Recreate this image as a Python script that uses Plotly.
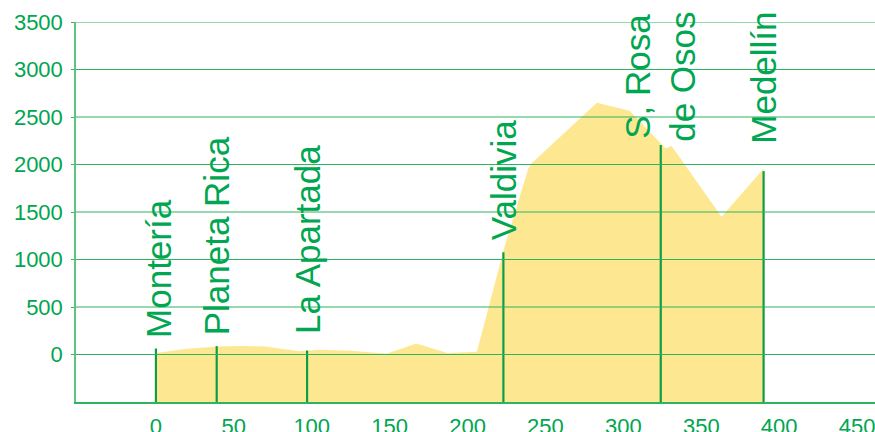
import plotly.graph_objects as go

# Route profile: distance along the road (km) and elevation (m)
profile_km = [0, 20, 40, 55, 70, 92, 105, 125, 148, 167, 187, 206, 224, 239, 241,
              283, 304, 327, 331, 363, 390]
profile_m = [15, 60, 85, 90, 85, 35, 50, 40, 8, 115, 15, 30, 1150, 1958, 2010,
             2650, 2566, 2170, 2195, 1450, 1955]

# Towns along the route: position (km) and elevation (m)
towns = ["Montería", "Planeta Rica", "La Apartada", "Valdivia", "S, Rosa<br>de Osos", "Medellín"]
town_km = [0, 39, 97, 223, 324, 390]
town_m = [63, 88, 42, 1076, 2205, 1930]

# Axis ticks
x_ticks = [0, 50, 100, 150, 200, 250, 300, 350, 400, 450]
y_ticks = [0, 500, 1000, 1500, 2000, 2500, 3000, 3500]

X_RANGE = [-51.3, 461.5]
Y_RANGE = [-500, 3500]

GREEN_TEXT = "#00A650"
GREEN_GRID = "#2EB35F"
GREEN_MARK = "#0B9E45"
FILL = "#FDE891"
FONT = "Liberation Sans"

# label offsets above each town marker (px)
label_yshift = [9, 9, 14, 10, 1, 25]
label_xshift = [2, 0, 0, 0, -1, 0]

fig = go.Figure()

# elevation area, closed down to the bottom of the axis
base = Y_RANGE[0]
fig.add_trace(go.Scatter(
    x=[profile_km[0]] + profile_km + [profile_km[-1]],
    y=[base] + profile_m + [base],
    fill="toself", fillcolor=FILL, mode="lines", line=dict(width=0),
    hoverinfo="skip", showlegend=False,
))

# vertical town markers
mx, my = [], []
for k, m in zip(town_km, town_m):
    mx += [k, k, None]
    my += [base, m, None]
fig.add_trace(go.Scatter(
    x=mx, y=my, mode="lines", line=dict(color=GREEN_MARK, width=2.2),
    hoverinfo="skip", showlegend=False, cliponaxis=False,
))

# horizontal gridlines drawn above the area
for v in y_ticks:
    fig.add_shape(type="line", xref="paper", yref="y", x0=0, x1=1, y0=v, y1=v,
                  line=dict(color=GREEN_GRID, width=1.2), layer="above")

for name, k, m, ys, xs in zip(towns, town_km, town_m, label_yshift, label_xshift):
    fig.add_annotation(
        x=k, y=m, text=name, textangle=-90, showarrow=False,
        xanchor="center", yanchor="bottom", yshift=ys, xshift=xs, align="center",
        font=dict(family=FONT, size=35, color=GREEN_TEXT),
    )

fig.update_xaxes(
    range=X_RANGE, tickvals=x_ticks, showgrid=False, zeroline=False,
    showline=True, linecolor=GREEN_GRID, linewidth=1.5,
    ticks="", tickfont=dict(family=FONT, size=22, color=GREEN_TEXT),
    ticklabelstandoff=4, ticklabeloverflow="allow", automargin=False,
)
fig.update_yaxes(
    range=Y_RANGE, tickvals=y_ticks, showgrid=False, zeroline=False,
    showline=True, linecolor="#5CC47F", linewidth=1.5,
    ticks="outside", ticklen=3, tickcolor=GREEN_GRID, tickwidth=1.2,
    tickfont=dict(family=FONT, size=22, color=GREEN_TEXT),
    ticklabelstandoff=4, automargin=False,
)

fig.update_layout(
    width=875, height=432,
    margin=dict(l=76, r=0, t=22, b=30, autoexpand=False),
    paper_bgcolor="white", plot_bgcolor="white",
    showlegend=False,
)

fig.write_html("out.html")
